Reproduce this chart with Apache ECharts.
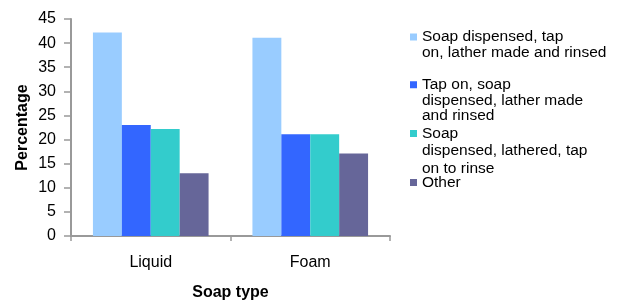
<!DOCTYPE html>
<html>
<head>
<meta charset="utf-8">
<script src="https://cdn.jsdelivr.net/npm/echarts@6/dist/echarts.min.js"></script>
<style>html,body{margin:0;padding:0;background:#fff}#c{width:625px;height:300px}</style>
</head>
<body>
<div id="c"></div>
<script>
const categories = ['Liquid', 'Foam'];
const seriesNames = [
  'Soap dispensed, tap on, lather made and rinsed',
  'Tap on, soap dispensed, lather made and rinsed',
  'Soap dispensed, lathered, tap on to rinse',
  'Other'
];
const legendLines = [
  ['Soap dispensed, tap', 'on, lather made and rinsed'],
  ['Tap on, soap', 'dispensed, lather made', 'and rinsed'],
  ['Soap', 'dispensed, lathered, tap', 'on to rinse'],
  ['Other']
];
const valuesDispensedFirst = [42.2, 41.1];
const valuesTapFirst = [23.0, 21.1];
const valuesLatherThenTap = [22.2, 21.1];
const valuesOther = [13.0, 17.1];
const seriesValues = [valuesDispensedFirst, valuesTapFirst, valuesLatherThenTap, valuesOther];
const colors = ['#99CCFF', '#3366FF', '#33CCCC', '#666699'];
const yTicks = { min: 0, max: 45, interval: 5 };

const FONT = '"Liberation Sans", Arial, sans-serif';
const legendCfg = [
  { lh: 16, center: 37 },
  { lh: 15.5, center: 84.5 },
  { lh: 17.5, center: 133.5 },
  { lh: 16, center: 182.5 }
];

const chart = echarts.init(document.getElementById('c'), null, { renderer: 'canvas' });
const legends = seriesNames.map((name, i) => {
  const n = legendLines[i].length;
  const L = legendCfg[i].lh;
  const H = (2 * n - 1) * L;
  // blank lines before the text keep the marker level with the first line
  const blank = new Array(n - 1).fill(' ');
  return {
    data: [name],
    left: 410,
    top: legendCfg[i].center - H / 2,
    padding: 0,
    itemWidth: 7,
    itemHeight: 7,
    icon: 'rect',
    selectedMode: false,
    formatter: () => blank.concat(legendLines[i]).join('\n'),
    textStyle: { fontFamily: FONT, fontSize: 15.5, color: '#000', lineHeight: L }
  };
});

chart.setOption({
  animation: false,
  color: colors,
  textStyle: { fontFamily: FONT },
  grid: { left: 71, right: 235, top: 19, bottom: 64, containLabel: false, outerBoundsMode: 'none' },
  legend: legends,
  xAxis: {
    type: 'category',
    data: categories,
    name: 'Soap type',
    nameLocation: 'middle',
    nameGap: 49,
    nameMoveOverlap: false,
    nameTextStyle: { fontFamily: FONT, fontSize: 16, fontWeight: 'bold', color: '#000' },
    axisLine: { lineStyle: { color: '#999', width: 2 } },
    axisTick: { show: true, length: 5, lineStyle: { color: '#999', width: 1.5 } },
    axisLabel: { fontFamily: FONT, fontSize: 16, color: '#000', margin: 19 }
  },
  yAxis: {
    type: 'value',
    min: yTicks.min, max: yTicks.max, interval: yTicks.interval,
    name: 'Percentage',
    nameLocation: 'middle',
    nameGap: 40,
    nameMoveOverlap: false,
    nameTextStyle: { fontFamily: FONT, fontSize: 16, fontWeight: 'bold', color: '#000' },
    axisLine: { show: true, lineStyle: { color: '#999', width: 2 } },
    axisTick: { show: true, length: 7, lineStyle: { color: '#999', width: 1.5 } },
    axisLabel: { fontFamily: FONT, fontSize: 16, color: '#000', margin: 15 },
    splitLine: { show: false }
  },
  series: seriesNames.map((name, i) => ({
    name,
    type: 'bar',
    data: seriesValues[i],
    barGap: '0%',
    barCategoryGap: '27.5%',
    itemStyle: { color: colors[i] }
  }))
});
</script>
</body>
</html>
